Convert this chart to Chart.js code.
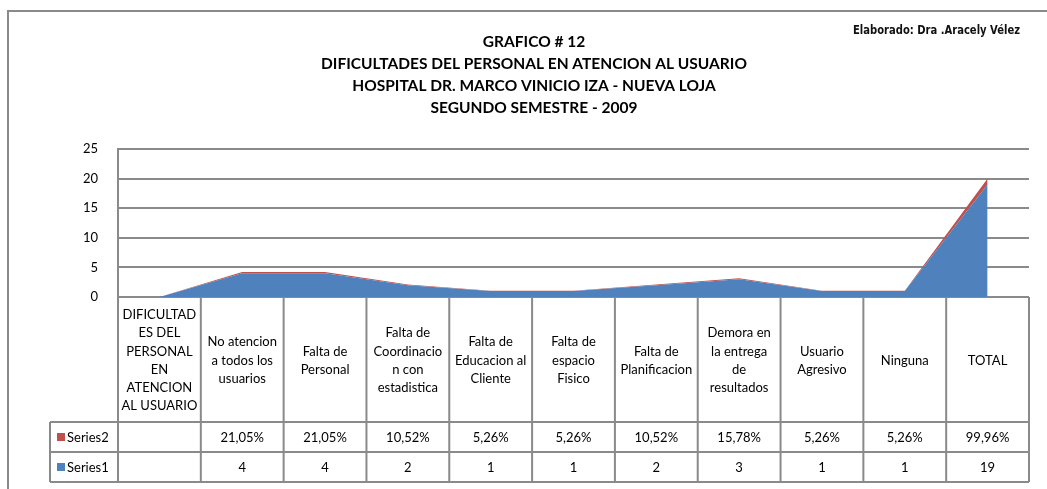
<!DOCTYPE html>
<html>
<head>
<meta charset="utf-8">
<script src="https://cdn.jsdelivr.net/npm/chart.js@4/dist/chart.umd.min.js"></script>
<style>
  html, body { margin: 0; padding: 0; background: #fff; }
  #wrap { position: relative; width: 1047px; height: 489px; }
</style>
</head>
<body>
<div id="wrap"><canvas id="c" width="1047" height="489"></canvas></div>
<script>
// ---- data ----
const titleLines = [
  "GRAFICO # 12",
  "DIFICULTADES DEL PERSONAL EN ATENCION AL USUARIO",
  "HOSPITAL DR. MARCO VINICIO IZA - NUEVA LOJA",
  "SEGUNDO SEMESTRE - 2009"
];
const authorNote = "Elaborado: Dra .Aracely Vélez";
const categories = [
  ["DIFICULTAD", "ES DEL", "PERSONAL", "EN", "ATENCION", "AL USUARIO"],
  ["No atencion", "a todos los", "usuarios"],
  ["Falta de", "Personal"],
  ["Falta de", "Coordinacio", "n con", "estadistica"],
  ["Falta de", "Educacion al", "Cliente"],
  ["Falta de", "espacio", "Fisico"],
  ["Falta de", "Planificacion"],
  ["Demora en", "la entrega", "de", "resultados"],
  ["Usuario", "Agresivo"],
  ["Ninguna"],
  ["TOTAL"]
];
const series1Name = "Series1";
const series2Name = "Series2";
const series1 = [null, 4, 4, 2, 1, 1, 2, 3, 1, 1, 19];
const series2Pct = [null, 21.05, 21.05, 10.52, 5.26, 5.26, 10.52, 15.78, 5.26, 5.26, 99.96];
const yTicks = [0, 5, 10, 15, 20, 25];

// ---- styles ----
const BLUE = "#4F81BD";
const RED = "#C0504D";
const GRID = "#8a8a8a";
const FONT = "Lato, 'Liberation Sans', sans-serif";

const fmtPct = v => v == null ? "" : v.toFixed(2).replace(".", ",") + "%";
const fmtNum = v => v == null ? "" : String(v);

const framePlugin = {
  id: "frame",
  beforeDraw(chart) {
    const ctx = chart.ctx;
    ctx.save();
    ctx.fillStyle = "#fff";
    ctx.fillRect(0, 0, chart.width, chart.height);
    ctx.strokeStyle = "#8a8a8a";
    ctx.lineWidth = 2;
    ctx.beginPath();
    ctx.moveTo(8, chart.height + 2);
    ctx.lineTo(8, 11);
    ctx.lineTo(chart.width + 2, 11);
    ctx.stroke();
    // author note
    ctx.fillStyle = "#111";
    ctx.font = "bold 13px 'DejaVu Sans Condensed', 'DejaVu Sans', sans-serif";
    ctx.textAlign = "left";
    ctx.textBaseline = "middle";
    const w = ctx.measureText(authorNote).width;
    ctx.save();
    ctx.translate(853, 31);
    ctx.scale(167 / w, 1);
    ctx.fillText(authorNote, 0, 0);
    ctx.restore();
    ctx.restore();
  }
};

const tablePlugin = {
  id: "datatable",
  afterDraw(chart) {
    const ctx = chart.ctx;
    const xs = chart.scales.x;
    const area = chart.chartArea;
    const n = categories.length;
    const step = (area.right - area.left) / n;
    const bounds = [];
    for (let i = 0; i <= n; i++) bounds.push(area.left + i * step);
    const yTop = area.bottom;
    const yHead = 422, yR2 = 452, yR1 = 482;
    const legLeft = 50;

    ctx.save();
    ctx.strokeStyle = GRID;
    ctx.lineWidth = 2;
    ctx.beginPath();
    bounds.forEach(b => { ctx.moveTo(b, yTop); ctx.lineTo(b, yR1); });
    ctx.moveTo(legLeft, yHead); ctx.lineTo(legLeft, yR1);
    [yHead, yR2, yR1].forEach(y => { ctx.moveTo(legLeft, y); ctx.lineTo(area.right, y); });
    ctx.stroke();

    ctx.fillStyle = "#000";
    ctx.font = "13px " + FONT;
    ctx.textAlign = "center";
    ctx.textBaseline = "middle";
    const lh = 18.3;
    categories.forEach((lines, i) => {
      const cx = xs.getPixelForValue(i);
      const cy = (yTop + yHead) / 2 + 1;
      const start = cy - (lines.length - 1) * lh / 2;
      lines.forEach((t, k) => ctx.fillText(t, cx, start + k * lh));
      ctx.fillText(fmtPct(series2Pct[i]), cx, (yHead + yR2) / 2 + 1);
      ctx.fillText(fmtNum(series1[i]), cx, (yR2 + yR1) / 2 + 1);
    });
    // legend keys
    ctx.textAlign = "left";
    [[series2Name, RED, (yHead + yR2) / 2], [series1Name, BLUE, (yR2 + yR1) / 2]].forEach(([name, col, y]) => {
      ctx.fillStyle = col;
      ctx.fillRect(57, y - 4, 8, 8);
      ctx.fillStyle = "#000";
      ctx.fillText(name, 67, y + 1);
    });
    ctx.restore();
  }
};

new Chart(document.getElementById("c"), {
  type: "line",
  data: {
    labels: categories,
    datasets: [
      {
        label: series1Name,
        data: series1.map(v => v ?? 0),
        backgroundColor: BLUE,
        borderColor: BLUE,
        borderWidth: 0,
        fill: "origin",
        pointRadius: 0,
        tension: 0
      },
      {
        label: series2Name,
        data: series2Pct.map(v => (v ?? 0) / 100),
        backgroundColor: RED,
        borderColor: RED,
        borderWidth: 0,
        fill: "-1",
        pointRadius: 0,
        tension: 0
      }
    ]
  },
  options: {
    responsive: false,
    animation: false,
    events: [],
    layout: { padding: { top: 0, left: 39, right: 18, bottom: 7 } },
    plugins: {
      legend: { display: false },
      tooltip: { enabled: false },
      title: {
        display: true,
        text: titleLines,
        color: "#000",
        font: { family: FONT, size: 15.5, weight: "bold", lineHeight: 22 / 15.5 },
        padding: { top: 31, bottom: 30 }
      }
    },
    scales: {
      x: {
        type: "category",
        offset: true,
        grid: { display: false },
        border: { display: false },
        ticks: { display: false },
        afterFit(s) { s.height = 185; }
      },
      y: {
        stacked: true,
        min: 0,
        max: 25,
        afterBuildTicks(s) { s.ticks = yTicks.map(v => ({ value: v })); },
        ticks: { color: "#000", font: { family: FONT, size: 13 }, padding: 20 },
        grid: { color: GRID, lineWidth: 2, drawTicks: false },
        border: { display: true, color: GRID, width: 2 },
        afterFit(s) { s.width = 79; }
      }
    }
  },
  plugins: [framePlugin, tablePlugin]
});
</script>
</body>
</html>
